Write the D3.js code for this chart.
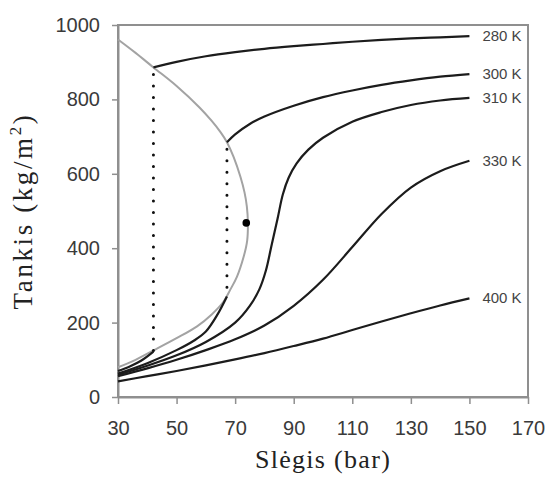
<!DOCTYPE html>
<html><head><meta charset="utf-8">
<script src="https://cdn.jsdelivr.net/npm/d3@7"></script>
<style>body{margin:0;background:#fff}svg{display:block}
.serif{font-family:"Liberation Serif","DejaVu Serif","Noto Serif",Times,serif}
.sans{font-family:"Liberation Sans",Arial,"DejaVu Sans",sans-serif}
</style>
</head><body>
<svg id="chart" width="547" height="486"></svg>
<script>
// ---- data (pressure in bar, density in kg/m3) ----
const xTicks = [30, 50, 70, 90, 110, 130, 150, 170];
const yTicks = [0, 200, 400, 600, 800, 1000];

// saturation dome (liquid branch from top, then vapour branch)
const domeP   = [30.0, 36.0, 42.1, 50.0, 58.0, 62.0, 65.0, 67.2, 69.5, 71.8, 73.2, 74.0, 74.35, 74.1, 72.9, 70.6, 68.3, 66.0, 62.0, 57.0, 50.0, 42.1, 36.0, 30.0];
const domeRho = [961, 925, 886, 836, 777, 742, 712, 685, 645, 592, 550, 512, 470, 420, 377, 323, 288, 256, 222, 190, 158, 125, 100, 80];

const critP = 73.8, critRho = 468;

const t280LiqP   = [42.1, 50, 60, 70, 80, 90, 100, 110, 120, 130, 140, 150];
const t280LiqRho = [886, 901, 916, 927, 936, 943, 949, 955, 960, 964, 967, 970];
const t280VapP   = [30, 34, 38, 42.1];
const t280VapRho = [70, 82, 98, 122];

const t300LiqP   = [67.2, 70, 75, 80, 90, 100, 110, 120, 130, 140, 150];
const t300LiqRho = [685, 706, 734, 754, 783, 806, 824, 839, 851, 861, 868];
const t300VapP   = [30, 40, 50, 56, 60, 64, 67.2];
const t300VapRho = [63, 91, 126, 152, 176, 222, 270];

const t310P   = [30, 40, 50, 60, 70, 75, 78.3, 80.5, 82.5, 84.5, 86.3, 88.3, 91, 95, 100, 110, 120, 130, 140, 150];
const t310Rho = [60, 84, 112, 148, 200, 245, 290, 340, 410, 480, 545, 590, 628, 665, 697, 740, 766, 785, 797, 804];

const t330P   = [30, 40, 50, 60, 70, 80, 90, 100, 110, 120, 130, 140, 150];
const t330Rho = [56, 77, 100, 126, 155, 192, 245, 315, 403, 492, 563, 607, 635];

const t400P   = [30, 40, 50, 60, 70, 80, 90, 100, 110, 120, 130, 140, 150];
const t400Rho = [42, 56, 70, 85, 101, 118, 137, 157, 180, 203, 225, 246, 265];

const isoLabels = ["280 K", "300 K", "310 K", "330 K", "400 K"];

// dotted tie lines (pressure, liquid density, vapour density)
const tieP      = [42.1, 67.2];
const tieLiqRho = [886, 685];
const tieVapRho = [124, 270];

// ---- chart ----
const W = 547, H = 486;
const margin = {top: 25, right: 19, bottom: 89, left: 118};
const w = W - margin.left - margin.right, h = H - margin.top - margin.bottom;

const svg = d3.select("#chart");
const g = svg.append("g").attr("transform", `translate(${margin.left},${margin.top})`);

const x = d3.scaleLinear().domain([30, 170]).range([0, w]);
const y = d3.scaleLinear().domain([0, 1000]).range([h, 0]);

const zip = (P, R) => P.map((p, i) => [p, R[i]]);
const line = d3.line().x(d => x(d[0])).y(d => y(d[1])).curve(d3.curveCatmullRom.alpha(0.5));

const axisColor = "#8f8f8f";

// frame
g.append("rect").attr("x", 0).attr("y", 0).attr("width", w).attr("height", h)
  .attr("fill", "none").attr("stroke", axisColor).attr("stroke-width", 2);

// axes
const xAxis = g.append("g").attr("transform", `translate(0,${h})`)
  .call(d3.axisBottom(x).tickValues(xTicks).tickFormat(d3.format("d")).tickSize(7).tickSizeOuter(0).tickPadding(17));
const yAxis = g.append("g")
  .call(d3.axisLeft(y).tickValues(yTicks).tickFormat(d3.format("d")).tickSize(6).tickSizeOuter(0).tickPadding(12));
[xAxis, yAxis].forEach(a => {
  a.attr("font-family", null).attr("font-size", null);
  a.select(".domain").attr("stroke", axisColor).attr("stroke-width", 2);
  a.selectAll(".tick line").attr("stroke", axisColor).attr("stroke-width", 1.5);
  a.selectAll(".tick text").attr("fill", "#3a3a3a").attr("class", "sans").style("font-size", "20px");
});

// dome
g.append("path").datum(zip(domeP, domeRho)).attr("d", line)
  .attr("fill", "none").attr("stroke", "#a3a3a3").attr("stroke-width", 2);

// tie lines
tieP.forEach((p, i) => {
  g.append("line").attr("x1", x(p)).attr("x2", x(p))
    .attr("y1", y(tieLiqRho[i]) + 7).attr("y2", y(tieVapRho[i]))
    .attr("stroke", "#111").attr("stroke-width", 3).attr("stroke-linecap", "round")
    .attr("stroke-dasharray", "0,11.5");
});

// isotherms
const isoSeries = [
  zip(t280VapP, t280VapRho), zip(t280LiqP, t280LiqRho),
  zip(t300VapP, t300VapRho), zip(t300LiqP, t300LiqRho),
  zip(t310P, t310Rho), zip(t330P, t330Rho), zip(t400P, t400Rho)
];
isoSeries.forEach(s => {
  g.append("path").datum(s).attr("d", line)
    .attr("fill", "none").attr("stroke", "#1c1c1c").attr("stroke-width", 2.2);
});

// labels at line ends
const ends = [t280LiqRho, t300LiqRho, t310Rho, t330Rho, t400Rho].map(r => r[r.length - 1]);
isoLabels.forEach((lab, i) => {
  g.append("text").attr("class", "sans").attr("x", x(150) + 13).attr("y", y(ends[i]) + 1)
    .attr("dominant-baseline", "middle").attr("fill", "#444").style("font-size", "15px")
    .text(lab);
});

// critical point
g.append("circle").attr("cx", x(critP)).attr("cy", y(critRho)).attr("r", 3.8).attr("fill", "#000");

// axis titles
svg.append("text").attr("class", "serif").attr("x", margin.left + w / 2).attr("y", 468).attr("text-anchor", "middle")
  .attr("fill", "#222").attr("letter-spacing", "1.3px").style("font-size", "26px")
  .text("Slėgis (bar)");

const yt = svg.append("text").attr("class", "serif").attr("transform", `translate(32,${margin.top + h / 2}) rotate(-90)`)
  .attr("text-anchor", "middle").attr("fill", "#222").attr("letter-spacing", "2.6px").style("font-size", "27px");
yt.append("tspan").text("Tankis (kg/m");
yt.append("tspan").attr("dy", -11).style("font-size", "17px").text("2");
yt.append("tspan").attr("dy", 11).text(")");
</script>
</body></html>
